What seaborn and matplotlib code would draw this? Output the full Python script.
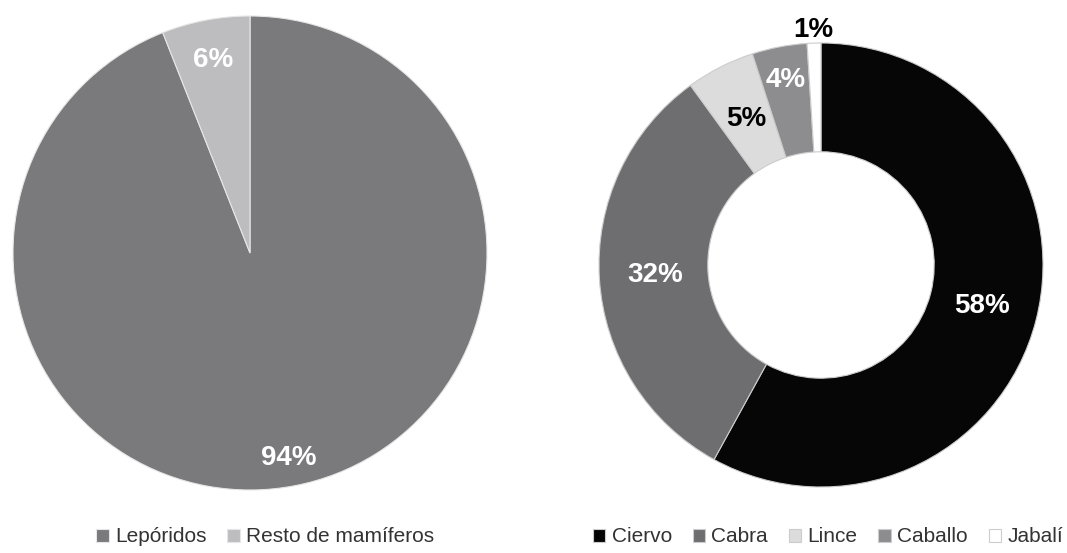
import numpy as np
import matplotlib
matplotlib.use("Agg")
import matplotlib.pyplot as plt
import seaborn as sns

# Data
grupos = ["Lepóridos", "Resto de mamíferos"]
grupos_pct = [94, 6]
grupos_colores = ["#7a7a7c", "#bdbdbf"]

especies = ["Ciervo", "Cabra", "Lince", "Caballo", "Jabalí"]
especies_pct = [58, 32, 5, 4, 1]
especies_colores = ["#060606", "#6e6e70", "#dcdcdc", "#8d8d8f", "#ffffff"]
especies_txt = ["white", "white", "black", "white", "black"]

sns.set_theme(style="white")
plt.rcParams["font.family"] = ["Liberation Sans", "DejaVu Sans"]

fig = plt.figure(figsize=(10.67, 5.53), dpi=100)


def move_label(wedges, texts, i, r):
    ang = np.deg2rad((wedges[i].theta1 + wedges[i].theta2) / 2)
    texts[i].set_position((r * np.cos(ang), r * np.sin(ang)))


# 1. Left pie
ax1 = fig.add_axes([13 / 1067, (553 - 490) / 553, 474 / 1067, 474 / 553])
w1, _, t1 = ax1.pie(grupos_pct, colors=grupos_colores, startangle=90, counterclock=False,
                    autopct=lambda p: f"{p:.0f}%", pctdistance=0.88,
                    wedgeprops=dict(edgecolor="#e6e6e6", linewidth=0.8),
                    textprops=dict(color="white", fontsize=20, fontweight="bold"))
ax1.set_xlim(-1, 1)
ax1.set_ylim(-1, 1)
move_label(w1, t1, 1, 0.83)

# 2. Right donut
ax2 = fig.add_axes([599 / 1067, (553 - 487) / 553, 444 / 1067, 444 / 553])
w2, _, t2 = ax2.pie(especies_pct, colors=especies_colores, startangle=90, counterclock=False,
                    autopct=lambda p: f"{p:.0f}%", pctdistance=0.75,
                    wedgeprops=dict(width=0.49, edgecolor="#cccccc", linewidth=0.8),
                    textprops=dict(fontsize=20, fontweight="bold"))
ax2.set_xlim(-1, 1)
ax2.set_ylim(-1, 1)

for txt, col in zip(t2, especies_txt):
    txt.set_color(col)

# move the small ones
move_label(w2, t2, 2, 0.74)
move_label(w2, t2, 3, 0.85)
move_label(w2, t2, 4, 1.06)

# Legends
leg_kw = dict(loc="center", frameon=False, fontsize=15, handlelength=0.6, handleheight=0.6,
              handletextpad=0.3, columnspacing=1.0, labelcolor="#333333")
fig.legend(w1, grupos, bbox_to_anchor=(265 / 1067, 1 - 537 / 553), ncol=2, **leg_kw)
fig.legend(w2, especies, bbox_to_anchor=(828 / 1067, 1 - 537 / 553), ncol=5, **leg_kw)

fig.savefig("out.png", dpi=100)
